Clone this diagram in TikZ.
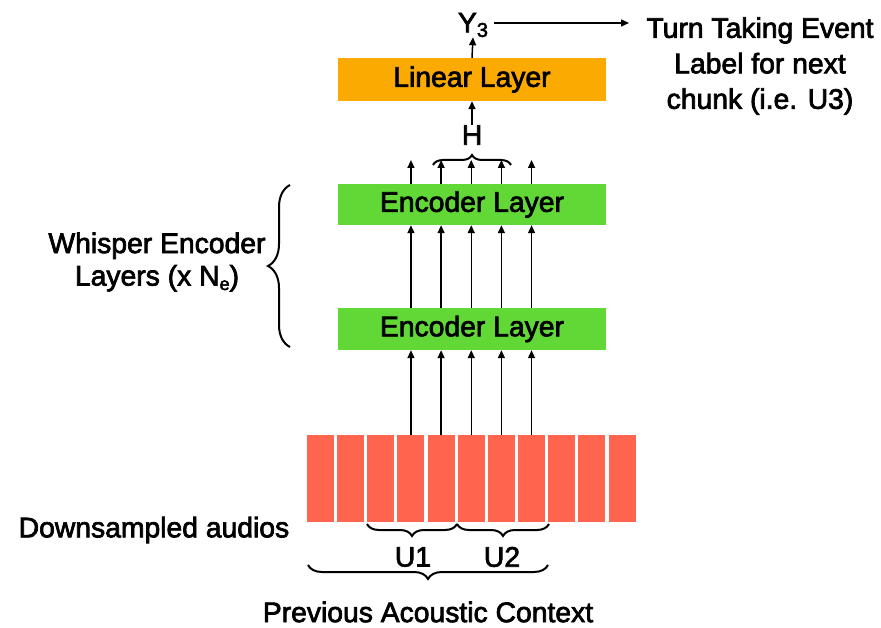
\documentclass[tikz,border=0pt]{standalone}
\usepackage{fontspec}
\setmainfont{Liberation Sans}
\newfontfamily\medfont[FakeBold=2.5]{Liberation Sans}
\usetikzlibrary{arrows.meta,decorations.pathreplacing}
\definecolor{linorange}{HTML}{FAAA00}
\definecolor{encgreen}{HTML}{61D836}
\definecolor{blockred}{HTML}{FF644E}
\tikzset{
  layerbox/.style={fill=#1, draw=none, minimum width=268pt, inner sep=0pt},
  block/.style={fill=blockred, draw=none, minimum width=27pt, minimum height=87pt, inner sep=0pt},
  lbl/.style={font=\medfont\fontsize{28.3}{35.5}\selectfont, inner sep=0pt, align=center},
  arr/.style={line width=1.5pt, -{Triangle[length=8pt,width=7pt]}},
  brc/.style={line width=2pt, decorate, decoration={brace, amplitude=#1}},
}
\begin{document}
\begin{tikzpicture}[x=1pt,y=-1pt]
\useasboundingbox (0,0) rectangle (881,628);
% layers
\node[layerbox=linorange, minimum height=43pt, lbl] (lin) at (472,79.5) {Linear Layer};
\node[layerbox=encgreen, minimum height=41pt, lbl] (enc2) at (472,204.5) {Encoder Layer};
\node[layerbox=encgreen, minimum height=42pt, lbl] (enc1) at (472,329) {Encoder Layer};
% blocks
\foreach \i in {0,...,10}{
  \node[block] (b\i) at ({320.5+30.15*\i},478.5) {};
}
% arrows from blocks to encoders and upward
\foreach \i [count=\k] in {3,...,7}{
  \draw[arr] (b\i.north) -- (b\i.north |- enc1.south);
  \draw[arr] (b\i.north |- enc1.north) -- (b\i.north |- enc2.south);
  \coordinate (t\k) at ({320.5+30.15*\i},160);
  \draw[arr] (b\i.north |- enc2.north) -- (t\k);
}
% H brace
\draw[brc=10pt] (433,165) -- (511,165);
\node[lbl] (H) at (472,135) {H};
\draw[arr] (H.north) -- (lin.south);
% output
\node[lbl] (Y) at (473,25) {Y\raisebox{-0.3ex}{\fontsize{20}{20}\selectfont 3}};
\draw[arr] (lin.north) -- (Y.south);
\node[lbl] (turn) at (760,66) {Turn Taking Event\\Label for next\\chunk (i.e. U3)};
\coordinate (ystart) at (494,23);
\coordinate (yend) at (629,23);
\draw[arr] (ystart) -- (yend);
% left brace
\draw[brc=22pt] (290,347) -- (290,185);
\node[lbl, align=center] (whisper) at (157,262) {Whisper Encoder\\[-3pt]Layers (x N\raisebox{-0.3ex}{\fontsize{18}{18}\selectfont e})};
% bottom braces
\draw[brc=12pt] (457,524) -- (367,524);
\draw[brc=12pt] (549,524) -- (457,524);
\node[lbl] (u1) at (413,557) {U1};
\node[lbl] (u2) at (502,557) {U2};
\draw[brc=14pt] (548,565) -- (308,565);
\node[lbl] (prev) at (428,612) {Previous Acoustic Context};
\node[lbl] (down) at (154,530) {Downsampled audios};
\end{tikzpicture}
\end{document}
